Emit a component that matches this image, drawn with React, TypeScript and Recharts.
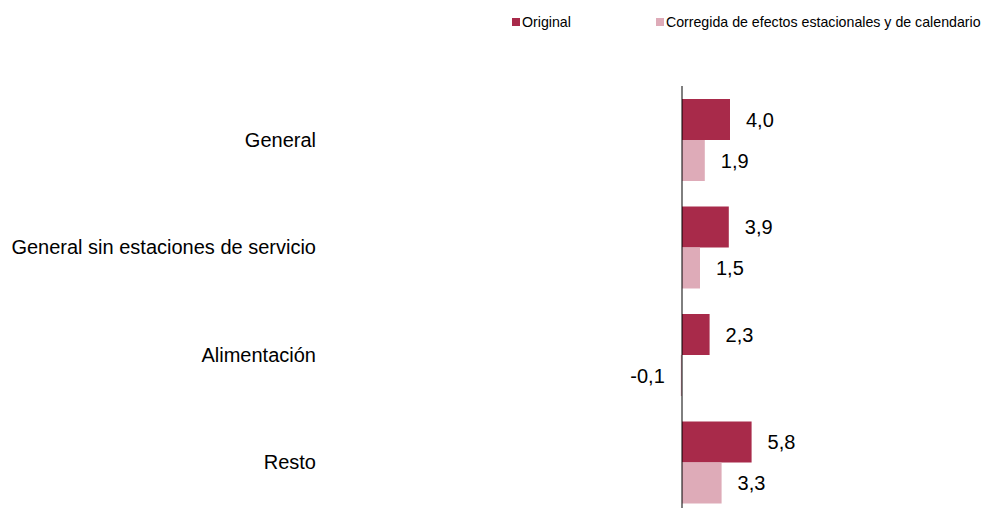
import React from "react";
import {
  BarChart, Bar, XAxis, YAxis, ReferenceLine, LabelList,
} from "recharts";

const categories = [
  "General",
  "General sin estaciones de servicio",
  "Alimentación",
  "Resto",
];
const original = [4.0, 3.9, 2.3, 5.8];
const corregida = [1.9, 1.5, -0.1, 3.3];

const seriesNames = ["Original", "Corregida de efectos estacionales y de calendario"];
const colors = ["#A82A4A", "#DEABB8"];

const data = categories.map((name, i) => ({
  name,
  original: original[i],
  corregida: corregida[i],
}));

const FONT = '"Liberation Sans", Arial, sans-serif';

const fmt = (v: any) => Number(v).toFixed(1).replace(".", ",");

export default function App() {
  return (
    <div
      style={{
        position: "fixed", top: 0, left: 0, width: 983, height: 508,
        overflow: "hidden", background: "#fff", fontFamily: FONT,
      }}
    >
      {/* legend */}
      <div style={{ position: "absolute", top: 14, left: 512, display: "flex", alignItems: "center", fontSize: 14.2, color: "#000" }}>
        {seriesNames.map((s, i) => (
          <div key={s} style={{ display: "flex", alignItems: "center", marginLeft: i === 0 ? 0 : 85 }}>
            <span style={{ width: 8, height: 8, background: colors[i], display: "inline-block", marginRight: 2 }} />
            <span>{s}</span>
          </div>
        ))}
      </div>
      <BarChart
        width={983}
        height={530}
        data={data}
        layout="vertical"
        barGap={0}
        barSize={41}
        margin={{ top: 86, right: 1, bottom: 14, left: 0 }}
      >
        <XAxis type="number" domain={[-30, 25]} hide />
        <YAxis
          type="category"
          dataKey="name"
          width={322}
          axisLine={false}
          tickLine={false}
          tickSize={0}
          tickMargin={6}
          tick={{ fontSize: 20, fill: "#000", fontFamily: FONT }}
        />
        <Bar dataKey="original" fill={colors[0]} isAnimationActive={false}>
          <LabelList dataKey="original" position="right" offset={16} formatter={fmt}
            style={{ fontSize: 20, fill: "#000", fontFamily: FONT }} />
        </Bar>
        <Bar dataKey="corregida" fill={colors[1]} isAnimationActive={false}>
          <LabelList dataKey="corregida" position="right" offset={16} formatter={fmt}
            style={{ fontSize: 20, fill: "#000", fontFamily: FONT }} />
        </Bar>
        <ReferenceLine x={0} stroke="#000" strokeWidth={1} />
      </BarChart>
    </div>
  );
}
